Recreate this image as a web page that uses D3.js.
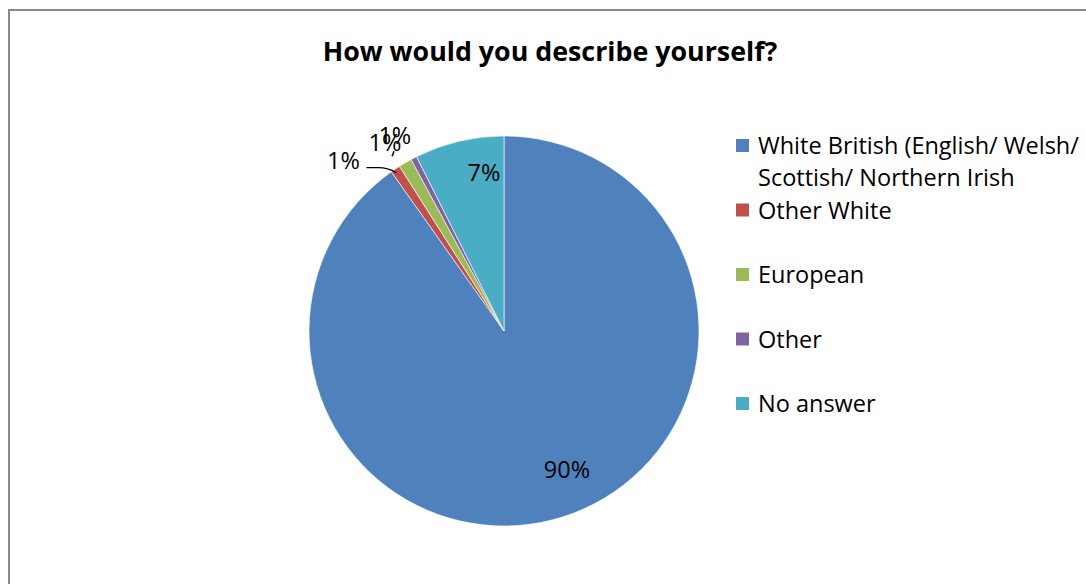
<!DOCTYPE html>
<html><head><meta charset="utf-8">
<script src="https://cdn.jsdelivr.net/npm/d3@7"></script>
<style>html,body{margin:0;padding:0;background:#fff;}svg{display:block;}</style>
</head><body>
<svg id="c" width="1086" height="584"></svg>
<script>
const title = "How would you describe yourself?";
const categories = ["White British (English/ Welsh/ Scottish/ Northern Irish", "Other White", "European", "Other", "No answer"];
const values = [90.2, 0.8, 1.1, 0.5, 7.4];
const colors = ["#4F81BD", "#C0504D", "#9BBB59", "#8064A2", "#4BACC6"];

const FONT = "'Open Sans', sans-serif";
const svg = d3.select("#c");
const W = 1086, H = 584;

svg.append("rect").attr("x", 9).attr("y", 10).attr("width", W + 20).attr("height", H + 20)
  .attr("fill", "#fff").attr("stroke", "#898989").attr("stroke-width", 2);

svg.append("text").attr("x", 550).attr("y", 52).attr("dy", "0.35em").attr("text-anchor", "middle")
  .attr("font-family", FONT).attr("font-weight", "bold").attr("font-size", 26.8)
  .attr("fill", "#000").text(title);

const cx = 504, cy = 331, R = 195;
const total = d3.sum(values);
const pie = d3.pie().sort(null).value(d => d);
const arcs = pie(values);
const arc = d3.arc().innerRadius(0).outerRadius(R);
const g = svg.append("g").attr("transform", `translate(${cx},${cy})`);

g.selectAll("path").data(arcs).join("path")
  .attr("d", arc).attr("fill", (d, i) => colors[i])
  .attr("stroke", "#fff").attr("stroke-width", 0.6);

const fmt = v => Math.round(v / total * 100) + "%";
// label placement: radius factor, angle shift (degrees) from slice mid-angle
const place = [
  {r: 0.78, da: -6.8},
  {r: 1.20, da: -9.5},
  {r: 1.145, da: -1.8},
  {r: 1.15, da: -1.6},
  {r: 0.82, da: 6.1}
];
arcs.forEach((d, i) => {
  const p = place[i];
  const a = (d.startAngle + d.endAngle) / 2 + p.da * Math.PI / 180;
  const x = Math.sin(a) * R * p.r, y = -Math.cos(a) * R * p.r;
  g.append("text").attr("x", x).attr("y", y).attr("dy", "0.36em")
    .attr("text-anchor", "middle").attr("font-family", FONT).attr("font-size", 23.5)
    .attr("fill", "#000").text(fmt(values[i]));
});
// leader lines
(function(){
  const d = arcs[1];
  const a = (d.startAngle + d.endAngle) / 2;
  const ex = Math.sin(a) * R * 0.99, ey = -Math.cos(a) * R * 0.99;
  const lx = ex - 30, ly = ey - 3;
  g.append("path").attr("d", `M${lx},${ly} L${lx + 12},${ly} Q${ex - 9},${ly} ${ex},${ey + 2}`)
    .attr("fill", "none").attr("stroke", "#000").attr("stroke-width", 1.2);
  const d2 = arcs[3];
  const a2 = (d2.startAngle + d2.endAngle) / 2;
  const px = Math.sin(a2 - 0.08) * R * 1.07, py = -Math.cos(a2 - 0.08) * R * 1.07;
  g.append("path").attr("d", `M${px - 1},${py + 2} L${px + 1},${py - 3}`)
    .attr("fill", "none").attr("stroke", "#000").attr("stroke-width", 1.5);
})();

// legend
const lx0 = 736, ly0 = 146, rowH = 64.5, lineH = 32, maxW = 340;
const leg = svg.append("g");
let y = ly0;
categories.forEach((c, i) => {
  leg.append("rect").attr("x", lx0).attr("y", y - 7).attr("width", 13).attr("height", 13).attr("fill", colors[i]);
  const t = leg.append("text").attr("x", lx0 + 22).attr("y", y)
    .attr("font-family", FONT).attr("font-size", 23.5).attr("fill", "#000");
  const words = c.split(" ");
  let line = [], lines = [];
  const tmp = t.append("tspan");
  words.forEach(w => {
    line.push(w);
    tmp.text(line.join(" "));
    if (tmp.node().getComputedTextLength() > maxW && line.length > 1) {
      line.pop(); lines.push(line.join(" ")); line = [w];
    }
  });
  lines.push(line.join(" "));
  tmp.remove();
  lines.forEach((l, k) => {
    t.append("tspan").attr("x", lx0 + 22).attr("dy", k === 0 ? "0.36em" : lineH).text(l);
  });
  y += rowH;
});
</script>
</body></html>
